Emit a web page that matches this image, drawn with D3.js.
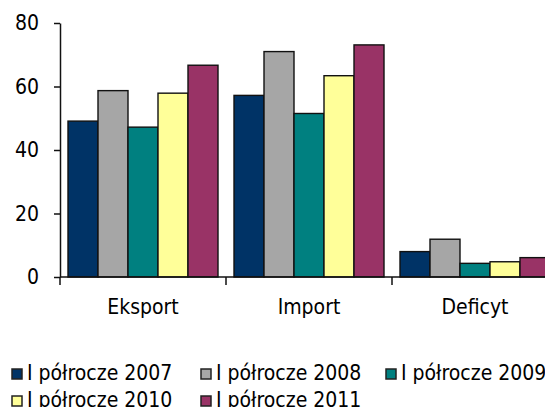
<!DOCTYPE html>
<html>
<head>
<meta charset="utf-8">
<script src="https://cdn.jsdelivr.net/npm/d3@7"></script>
<style>
  body { margin: 0; background: #fff; overflow: hidden; }
  svg text { font-family: "DejaVu Sans Condensed", "DejaVu Sans", sans-serif; font-stretch: condensed; font-size: 21px; fill: #000; }
</style>
</head>
<body>
<div id="chart"></div>
<script>
const width = 545, height = 407;

// categories and series
const kategorie = ["Eksport", "Import", "Deficyt"];
const serie = ["I półrocze 2007", "I półrocze 2008", "I półrocze 2009", "I półrocze 2010", "I półrocze 2011"];
const kolory = ["#003366", "#a6a6a6", "#008080", "#ffff99", "#993366"];
// values per series, in order Eksport, Import, Deficyt
const w2007 = [49.1, 57.2, 8.0];
const w2008 = [58.7, 71.0, 11.9];
const w2009 = [47.2, 51.5, 4.3];
const w2010 = [57.9, 63.4, 4.8];
const w2011 = [66.7, 73.1, 6.1];
const yTicks = [0, 20, 40, 60, 80];

const wartosci = [w2007, w2008, w2009, w2010, w2011];

const svg = d3.select("#chart")
  .append("svg")
  .attr("width", width)
  .attr("height", height);

const mLeft = 60, mBottom = 277, mTop = 23;

const x0 = d3.scaleBand().domain(kategorie).range([mLeft, mLeft + 3 * 166]);
const x1 = d3.scaleBand().domain(serie).range([8, 158]);
const y = d3.scaleLinear().domain([0, 80]).range([mBottom, mTop]);

// bars
kategorie.forEach(function(kat, k) {
  const g = svg.append("g").attr("transform", "translate(" + x0(kat) + ",0)");
  serie.forEach(function(s, i) {
    g.append("rect")
      .attr("x", x1(s))
      .attr("y", y(wartosci[i][k]))
      .attr("width", x1.bandwidth())
      .attr("height", y(0) - y(wartosci[i][k]))
      .style("fill", kolory[i])
      .style("stroke", "#111")
      .style("stroke-width", 1.4);
  });
});

// y axis
const yAxis = svg.append("g")
  .attr("transform", "translate(" + mLeft + ",0)")
  .call(d3.axisLeft(y).tickValues(yTicks).tickSize(6).tickPadding(15).tickSizeOuter(0));
yAxis.select(".domain").style("stroke", "#111").style("stroke-width", 1.5);
yAxis.selectAll(".tick line").style("stroke", "#111").style("stroke-width", 1.5);
yAxis.attr("font-size", null).attr("font-family", null);

// x axis: line + boundary ticks
const xAxis = svg.append("g");
xAxis.append("line")
  .attr("x1", mLeft).attr("x2", width + 20)
  .attr("y1", mBottom).attr("y2", mBottom)
  .style("stroke", "#111").style("stroke-width", 1.5);
xAxis.selectAll(".xt")
  .data(kategorie)
  .enter()
  .append("line")
  .attr("x1", d => x0(d)).attr("x2", d => x0(d))
  .attr("y1", mBottom).attr("y2", mBottom + 8)
  .style("stroke", "#111").style("stroke-width", 1.5);
xAxis.selectAll(".xl")
  .data(kategorie)
  .enter()
  .append("text")
  .attr("x", d => x0(d) + x0.bandwidth() / 2)
  .attr("y", 314)
  .attr("text-anchor", "middle")
  .text(d => d);

// legend
const legendX = [12, 201, 386];
const legend = svg.append("g");
serie.forEach(function(s, i) {
  const lx = legendX[i % 3];
  const ly = 380 + Math.floor(i / 3) * 27;
  legend.append("rect")
    .attr("x", lx).attr("y", ly - 11)
    .attr("width", 10).attr("height", 10)
    .style("fill", kolory[i])
    .style("stroke", "#222")
    .style("stroke-width", 1.5);
  legend.append("text")
    .attr("x", lx + 15)
    .attr("y", ly)
    .text(s);
});
</script>
</body>
</html>
